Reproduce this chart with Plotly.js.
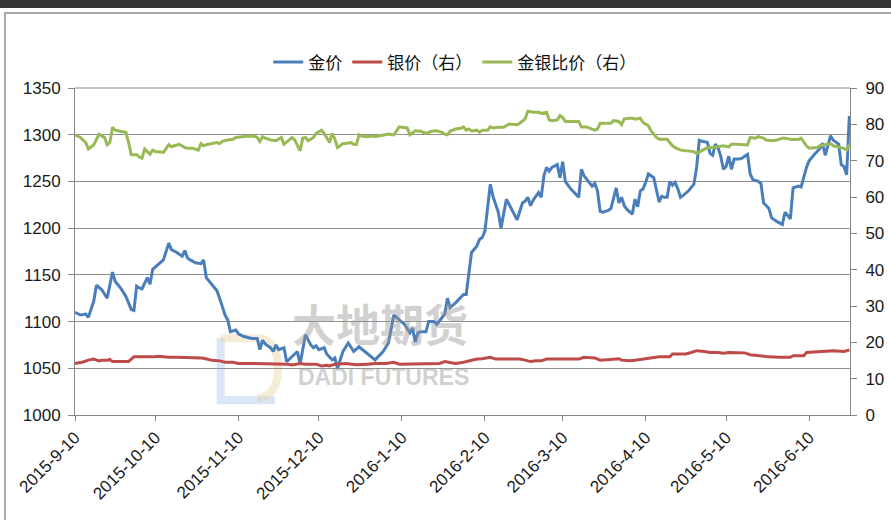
<!DOCTYPE html>
<html>
<head>
<meta charset="utf-8">
<script src="https://cdn.plot.ly/plotly-3.0.1.min.js"></script>
<style>
html,body{margin:0;padding:0;background:#fff;overflow:hidden;}
#chart{position:absolute;left:0;top:0;width:891px;height:520px;}
.deco{position:absolute;pointer-events:none;}
</style>
</head>
<body>
<div id="chart"></div>
<div class="deco" style="left:0;top:0;width:891px;height:8px;background:#333333;"></div>
<div class="deco" style="left:4px;top:12px;width:900px;height:600px;border-left:2px solid #a9a9a9;border-top:2px solid #a9a9a9;"></div>
<script>
// ---- data ----
const goldDates = ['2015-09-10','2015-09-12','2015-09-14','2015-09-15','2015-09-17','2015-09-18','2015-09-20','2015-09-22','2015-09-24','2015-09-25','2015-09-27','2015-09-29',
'2015-10-01','2015-10-02','2015-10-03','2015-10-04','2015-10-05','2015-10-07','2015-10-08','2015-10-09','2015-10-11','2015-10-13','2015-10-15','2015-10-16','2015-10-18','2015-10-20','2015-10-21','2015-10-22','2015-10-23','2015-10-25','2015-10-27','2015-10-28','2015-10-29','2015-10-31',
'2015-11-02','2015-11-04','2015-11-05','2015-11-06','2015-11-07','2015-11-08','2015-11-09','2015-11-10','2015-11-12','2015-11-15','2015-11-17','2015-11-18','2015-11-19','2015-11-20','2015-11-22','2015-11-23','2015-11-24','2015-11-25','2015-11-27','2015-11-28','2015-11-30',
'2015-12-02','2015-12-03','2015-12-05','2015-12-07','2015-12-08','2015-12-09','2015-12-10','2015-12-12','2015-12-13','2015-12-15','2015-12-16','2015-12-17','2015-12-19','2015-12-21','2015-12-23','2015-12-25','2015-12-27','2015-12-29','2015-12-31',
'2016-01-03','2016-01-05','2016-01-07','2016-01-09','2016-01-11','2016-01-13','2016-01-14','2016-01-15','2016-01-16','2016-01-17','2016-01-19','2016-01-20','2016-01-22','2016-01-23','2016-01-25','2016-01-26','2016-01-27','2016-01-28','2016-01-30',
'2016-02-01','2016-02-02','2016-02-03','2016-02-04','2016-02-05','2016-02-07','2016-02-08','2016-02-09','2016-02-10','2016-02-12','2016-02-13','2016-02-15','2016-02-16','2016-02-18','2016-02-20','2016-02-22','2016-02-24','2016-02-25','2016-02-26','2016-02-27','2016-02-28',
'2016-03-01','2016-03-02','2016-03-03','2016-03-04','2016-03-05','2016-03-06','2016-03-08','2016-03-09','2016-03-10','2016-03-11','2016-03-13','2016-03-16','2016-03-17','2016-03-18','2016-03-20','2016-03-21','2016-03-22','2016-03-23','2016-03-24','2016-03-25','2016-03-27','2016-03-28','2016-03-30','2016-03-31',
'2016-04-01','2016-04-02','2016-04-03','2016-04-05','2016-04-06','2016-04-07','2016-04-08','2016-04-09','2016-04-10','2016-04-11','2016-04-13','2016-04-14','2016-04-15','2016-04-16','2016-04-17','2016-04-18','2016-04-19','2016-04-20','2016-04-21','2016-04-22','2016-04-23','2016-04-24','2016-04-26','2016-04-28','2016-04-29','2016-04-30',
'2016-05-01','2016-05-03','2016-05-04','2016-05-05','2016-05-06','2016-05-07','2016-05-08','2016-05-09','2016-05-10','2016-05-11','2016-05-12','2016-05-13','2016-05-15','2016-05-16','2016-05-18','2016-05-19','2016-05-20','2016-05-22','2016-05-23','2016-05-24','2016-05-26','2016-05-27','2016-05-29','2016-05-31',
'2016-06-01','2016-06-03','2016-06-04','2016-06-06','2016-06-07','2016-06-09','2016-06-10','2016-06-12','2016-06-14','2016-06-15','2016-06-16','2016-06-18','2016-06-19','2016-06-21','2016-06-22','2016-06-23','2016-06-24','2016-06-25'];
const goldPrice = [1110,1107,1108,1104.5,1122,1139,1134,1125,1153,1143,1136,1127,
1113,1112,1138,1136,1135,1147,1140,1156,1161,1166,1184,1177,1174,1170,1176,1168,1166,1163,1162,1166,1147,1140,
1133,1116,1107,1102,1089,1090,1091,1087,1084,1082,1082,1070,1080,1076,1072,1068,1075,1070,1072,1057,1063,
1068,1054,1086,1075,1072,1074,1070,1072,1065,1059,1061,1050,1068,1077,1068,1073,1068,1064,1059,
1068,1077,1107,1102,1097,1088,1093,1078,1088,1089,1089,1100,1100,1097,1104,1108,1125,1115,1120,
1126,1129,1129,1150,1174,1181,1188,1190,1197,1247,1234,1217,1200,1231,1220,1209,1227,1229,1233,1224,1230,
1238,1233,1256,1265,1261,1265,1268,1254,1271,1250,1242,1233,1263,1256,1249,1245,1248,1240,1218,1217,1219,1221,1243,1227,
1233,1224,1220,1215,1231,1223,1240,1242,1249,1258,1254,1240,1228,1234,1233,1233,1250,1246,1249,1242,1233,1235,1240,1247,1265,1294,
1293,1292,1280,1278,1290,1286,1277,1263,1266,1277,1263,1274,1274,1275,1279,1258,1252,1250,1248,1227,1221,1211,1207,1204,
1217,1210,1243,1245,1244,1265,1272,1279,1285,1291,1278,1299,1294,1290,1268,1266,1257,1320];

const silverDates = ['2015-09-10','2015-09-13','2015-09-15','2015-09-17','2015-09-19','2015-09-20','2015-09-22','2015-09-23','2015-09-24','2015-09-27','2015-09-30',
'2015-10-01','2015-10-02','2015-10-05','2015-10-07','2015-10-09','2015-10-11','2015-10-13','2015-10-15','2015-10-18','2015-10-20','2015-10-23','2015-10-26','2015-10-27','2015-10-28','2015-10-29','2015-10-31',
'2015-11-03','2015-11-05','2015-11-08','2015-11-10','2015-11-14','2015-11-18','2015-11-20','2015-11-24','2015-11-28','2015-11-30',
'2015-12-03','2015-12-05','2015-12-09','2015-12-11','2015-12-13','2015-12-14','2015-12-16','2015-12-20','2015-12-24','2015-12-28','2015-12-31',
'2016-01-04','2016-01-07','2016-01-09','2016-01-13','2016-01-16','2016-01-20','2016-01-24','2016-01-26','2016-01-28','2016-01-30',
'2016-02-02','2016-02-05','2016-02-07','2016-02-09','2016-02-12','2016-02-14','2016-02-17','2016-02-19','2016-02-22','2016-02-23','2016-02-25','2016-02-27','2016-02-29',
'2016-03-02','2016-03-04','2016-03-06','2016-03-09','2016-03-11','2016-03-14','2016-03-16','2016-03-18','2016-03-20','2016-03-22','2016-03-24','2016-03-27','2016-03-31',
'2016-04-01','2016-04-04','2016-04-06','2016-04-09','2016-04-13','2016-04-15','2016-04-19','2016-04-20','2016-04-22','2016-04-25','2016-04-27','2016-04-29',
'2016-05-02','2016-05-04','2016-05-07','2016-05-09','2016-05-11','2016-05-13','2016-05-15','2016-05-17','2016-05-19','2016-05-22','2016-05-26','2016-05-30',
'2016-06-03','2016-06-04','2016-06-08','2016-06-09','2016-06-12','2016-06-14','2016-06-16','2016-06-19','2016-06-23','2016-06-25'];
const silverPrice = [14.2,14.6,15.1,15.4,14.9,15.1,15.1,15.3,14.7,14.6,14.7,
15.4,16.0,16.0,15.9,16.0,16.2,16.0,15.9,15.9,15.9,15.9,15.9,15.7,15.6,15.4,15.1,
14.9,14.5,14.5,14.2,14.2,14.2,14.2,14.2,14.0,13.8,
14.2,14.0,14.0,13.5,13.7,13.5,14.0,14.2,13.8,14.0,14.2,
14.2,14.5,14.0,14.0,14.0,14.2,14.2,14.7,14.5,14.2,
14.5,15.1,15.4,15.5,15.9,15.4,15.4,15.3,15.3,15.4,15.1,14.7,14.9,
14.9,15.4,15.4,15.4,15.6,15.4,15.4,15.9,15.7,15.7,15.1,15.3,15.5,
15.1,14.9,15.1,15.4,16.0,16.0,16.0,16.8,16.8,16.8,17.2,17.7,
17.5,17.2,17.2,17.0,17.2,17.1,17.2,17.1,16.6,16.3,16.0,15.9,
15.9,16.3,16.3,17.2,17.4,17.4,17.7,17.7,17.5,17.9];

const ratioDates = ['2015-09-10','2015-09-12','2015-09-14','2015-09-15','2015-09-17','2015-09-19','2015-09-20','2015-09-21','2015-09-22','2015-09-23','2015-09-24','2015-09-25','2015-09-27','2015-09-29','2015-09-30',
'2015-10-01','2015-10-03','2015-10-04','2015-10-05','2015-10-06','2015-10-08','2015-10-09','2015-10-10','2015-10-12','2015-10-13','2015-10-15','2015-10-16','2015-10-17','2015-10-19','2015-10-21','2015-10-22','2015-10-24','2015-10-26','2015-10-27','2015-10-28','2015-10-29','2015-10-31',
'2015-11-02','2015-11-03','2015-11-04','2015-11-06','2015-11-08','2015-11-09','2015-11-12','2015-11-14','2015-11-16','2015-11-17','2015-11-18','2015-11-19','2015-11-20','2015-11-22','2015-11-24','2015-11-26','2015-11-27','2015-11-29','2015-11-30',
'2015-12-01','2015-12-03','2015-12-04','2015-12-05','2015-12-06','2015-12-08','2015-12-09','2015-12-11','2015-12-12','2015-12-13','2015-12-14','2015-12-15','2015-12-16','2015-12-17','2015-12-19','2015-12-20','2015-12-22','2015-12-23','2015-12-24','2015-12-25','2015-12-26','2015-12-28','2015-12-30','2015-12-31',
'2016-01-02','2016-01-03','2016-01-05','2016-01-07','2016-01-08','2016-01-09','2016-01-10','2016-01-12','2016-01-13','2016-01-15','2016-01-17','2016-01-19','2016-01-21','2016-01-23','2016-01-25','2016-01-26','2016-01-27','2016-01-28','2016-01-30',
'2016-02-01','2016-02-02','2016-02-03','2016-02-04','2016-02-05','2016-02-07','2016-02-08','2016-02-09','2016-02-11','2016-02-12','2016-02-13','2016-02-15','2016-02-16','2016-02-17','2016-02-19','2016-02-20','2016-02-22','2016-02-23','2016-02-25','2016-02-26','2016-02-28',
'2016-03-01','2016-03-02','2016-03-04','2016-03-05','2016-03-06','2016-03-08','2016-03-09','2016-03-10','2016-03-11','2016-03-13','2016-03-15','2016-03-16','2016-03-17','2016-03-19','2016-03-21','2016-03-22','2016-03-23','2016-03-24','2016-03-26','2016-03-28','2016-03-29','2016-03-31',
'2016-04-01','2016-04-02','2016-04-04','2016-04-05','2016-04-06','2016-04-08','2016-04-09','2016-04-11','2016-04-12','2016-04-14','2016-04-15','2016-04-17','2016-04-18','2016-04-20','2016-04-21','2016-04-23','2016-04-25','2016-04-28','2016-04-29',
'2016-05-01','2016-05-03','2016-05-05','2016-05-07','2016-05-09','2016-05-11','2016-05-12','2016-05-14','2016-05-16','2016-05-18','2016-05-19','2016-05-21','2016-05-22','2016-05-24','2016-05-25','2016-05-27','2016-05-29','2016-05-31',
'2016-06-01','2016-06-03','2016-06-06','2016-06-07','2016-06-09','2016-06-10','2016-06-13','2016-06-14','2016-06-16','2016-06-18','2016-06-19','2016-06-21','2016-06-23','2016-06-24','2016-06-25'];
const ratioValue = [77.1,76.4,75.0,73.2,74.4,77.3,76.8,76.4,74.4,75.0,79.2,78.4,78.1,77.8,75.0,
71.6,71.6,71.0,70.7,73.2,71.8,72.9,72.5,72.3,72.3,74.4,73.8,74.1,74.5,73.6,73.4,73.4,72.9,74.7,74.1,74.4,74.7,
75.0,74.7,75.3,75.7,75.9,76.4,76.6,76.8,76.7,76.4,75.3,76.6,76.2,75.7,75.5,76.4,74.5,75.7,76.4,
75.7,72.7,76.2,76.4,75.5,76.4,77.5,78.4,77.5,76.2,75.0,77.5,75.9,73.6,74.7,74.7,75.0,74.5,74.4,77.1,76.8,76.6,76.8,76.6,
76.8,77.1,77.3,77.1,78.2,79.3,79.2,79.0,77.1,78.2,78.1,77.5,78.1,78.2,77.8,77.3,77.1,78.1,78.7,
78.9,79.3,78.4,78.7,78.2,78.4,77.8,78.4,78.4,79.3,79.0,79.2,79.3,79.2,80.1,80.1,79.9,80.3,81.5,83.6,83.3,
83.3,83.0,83.3,81.2,81.0,81.2,82.4,81.9,80.8,80.8,80.8,80.8,79.3,79.3,78.7,78.4,78.7,80.3,80.3,80.3,81.0,80.8,
79.9,81.5,81.7,81.7,81.4,81.7,80.5,79.6,78.2,76.4,75.9,75.9,75.9,74.1,73.6,72.9,72.7,72.5,72.0,
72.9,73.6,73.6,73.8,74.1,73.8,74.5,74.5,74.5,74.3,76.4,76.2,76.6,76.2,75.7,75.5,75.7,76.2,
76.2,75.9,75.8,76.2,74.1,73.4,73.6,74.1,74.4,74.7,74.1,73.8,73.4,72.9,74.5];

const tickDates  = ['2015-09-10','2015-10-10','2015-11-10','2015-12-10','2016-01-10','2016-02-10','2016-03-10','2016-04-10','2016-05-10','2016-06-10'];
const tickLabels = ['2015-9-10','2015-10-10','2015-11-10','2015-12-10','2016-1-10','2016-2-10','2016-3-10','2016-4-10','2016-5-10','2016-6-10'];
const seriesNames = ['金价','银价（右）','金银比价（右）'];

// ---- chart ----
const tickFont = {family:'Liberation Sans, Arial, sans-serif', size:17, color:'#1a1a1a'};
const traces = [
  {x:goldDates, y:goldPrice, name:seriesNames[0], type:'scatter', mode:'lines', yaxis:'y',
   line:{color:'#4a7ebb', width:3}},
  {x:silverDates, y:silverPrice, name:seriesNames[1], type:'scatter', mode:'lines', yaxis:'y2',
   line:{color:'#be4b48', width:3}},
  {x:ratioDates, y:ratioValue, name:seriesNames[2], type:'scatter', mode:'lines', yaxis:'y2',
   line:{color:'#98b954', width:3}}
];
const layout = {
  width:891, height:520,
  margin:{l:75, r:40.5, t:87.5, b:105, pad:0},
  paper_bgcolor:'#ffffff', plot_bgcolor:'#ffffff',
  showlegend:true,
  legend:{orientation:'h', x:0.49, xanchor:'center', y:1.078, yanchor:'middle',
          font:{family:'Noto Sans CJK SC, sans-serif', size:17, color:'#111'},
          bgcolor:'rgba(0,0,0,0)', traceorder:'normal'},
  xaxis:{type:'date', range:['2015-09-10','2016-06-25 06:00'], tickmode:'array',
         tickvals:tickDates, ticktext:tickLabels, tickangle:-45, tickfont:tickFont,
         ticks:'outside', ticklen:5, tickcolor:'#868686', showline:true, linecolor:'#868686', linewidth:1,
         showgrid:false, zeroline:false, fixedrange:true},
  yaxis:{range:[1000,1350], dtick:50, tick0:1000, tickfont:tickFont, ticks:'outside', ticklen:6,
         ticklabelstandoff:4,
         tickcolor:'#868686', showline:true, linecolor:'#868686', linewidth:1,
         showgrid:true, gridcolor:'#8f8f8f', gridwidth:1, zeroline:false},
  yaxis2:{range:[0,90], dtick:10, tick0:0, overlaying:'y', side:'right', tickfont:tickFont,
          ticklabelstandoff:5,
          ticks:'outside', ticklen:6, tickcolor:'#868686', showline:true, linecolor:'#868686', linewidth:1,
          showgrid:false, zeroline:false},
  shapes:[
    {type:'line', xref:'paper', yref:'paper', x0:0, x1:1, y0:1, y1:1, line:{color:'#c4c4c4', width:2}},
    {type:'path', xref:'paper', yref:'paper', layer:'below',
     path:'M 0.188 0.235 L 0.188 0.045 L 0.258 0.045', line:{color:'rgba(130,175,225,0.30)', width:8}},
    {type:'path', xref:'paper', yref:'paper', layer:'below',
     path:'M 0.188 0.235 L 0.235 0.235 Q 0.262 0.235 0.262 0.140 Q 0.262 0.060 0.235 0.050',
     line:{color:'rgba(225,200,140,0.35)', width:8}}
  ],
  annotations:[
    {text:'<b>大地期货</b>', xref:'paper', yref:'paper', x:0.393, y:0.178, showarrow:false,
     font:{family:'Noto Sans CJK SC, sans-serif', size:44, color:'rgba(150,150,150,0.45)'}},
    {text:'<b>DADI FUTURES</b>', xref:'paper', yref:'paper', x:0.398, y:0.070, showarrow:false,
     font:{family:'Liberation Sans, Arial, sans-serif', size:23, color:'rgba(150,150,150,0.45)'}}
  ]
};
Plotly.newPlot('chart', traces, layout, {staticPlot:true, displayModeBar:false});
</script>
</body>
</html>
